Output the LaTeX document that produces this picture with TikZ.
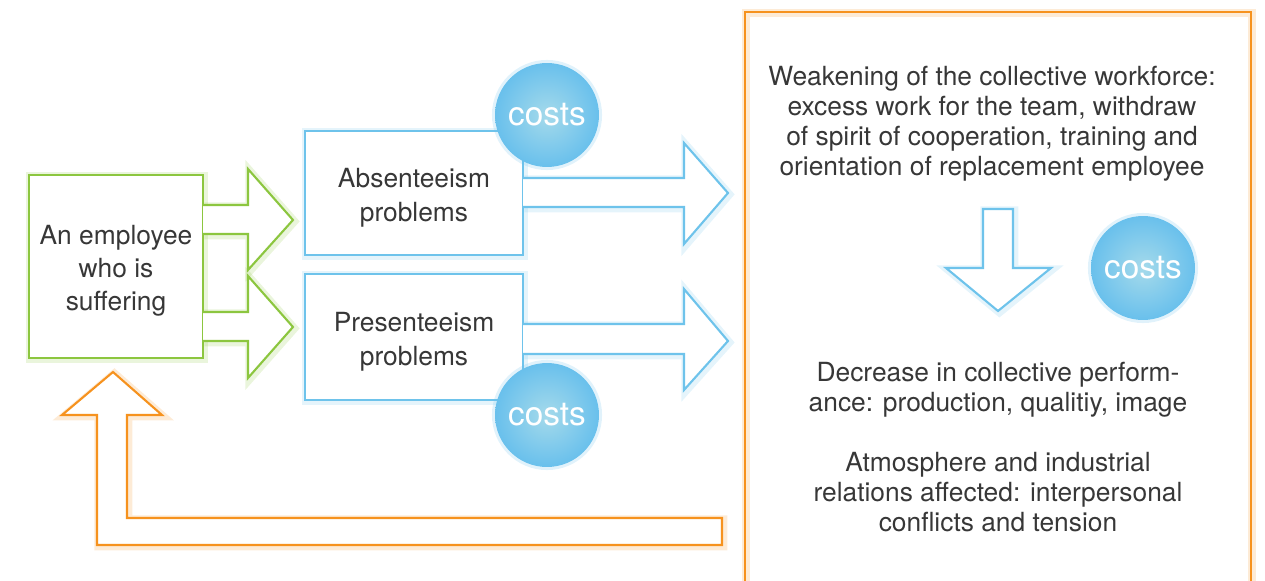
\documentclass[tikz,border=0pt]{standalone}
\usepackage{fontspec}
\setmainfont{TeX Gyre Heros}
\definecolor{txt}{RGB}{55,55,55}
\definecolor{grn}{RGB}{140,198,63}
\definecolor{blu}{RGB}{110,195,235}
\definecolor{org}{RGB}{246,146,30}
\definecolor{cin}{RGB}{165,218,235}
\definecolor{cout}{RGB}{105,192,236}
\tikzset{
  glowg/.style={preaction={draw=#1,opacity=.18,line width=4.5pt,transform canvas={shift={(0.8pt,-0.8pt)}}}},
  box/.style={draw=#1,line width=1.2pt,fill=white,glowg=#1,inner sep=0pt},
  label/.style={text=txt,align=center,inner sep=0pt},
  blk/.style={draw=#1,line width=1.2pt,fill=white,line join=miter,glowg=#1},
  costs/.style={circle,minimum size=2.08cm,inner sep=0pt,shading=radial,inner color=cin,outer color=cout,
    text=white,font=\fontsize{19}{22}\selectfont,preaction={draw=cout,opacity=.2,line width=3.5pt}},
  rtxt/.style={label,font=\fontsize{15}{17.1}\selectfont},
}
\begin{document}
\begin{tikzpicture}[x=0.02cm,y=-0.02cm]
\useasboundingbox (0,0) rectangle (1265,581);
% orange frame
\draw[org,line width=1.4pt,glowg=org] (745,12) rectangle (1251,620);
% green box
\node[box=grn,minimum width=3.48cm,minimum height=3.66cm] (emp) at (116,266.5) {};
\node[label,font=\fontsize{15}{18.7}\selectfont] (empt) at ([yshift=-2.3pt]emp.center) {An employee\\who is\\suffering};
% green arrows
\draw[blk=grn] (203,205)--(248,205)--(248,169)--(293,220)--(248,270)--(248,234)--(203,234);
\draw[blk=grn] (203,312)--(248,312)--(248,276)--(293,327)--(248,378)--(248,341)--(203,341);
% blue boxes
\node[box=blu,minimum width=4.36cm,minimum height=2.48cm] (abs) at (414,193) {};
\node[box=blu,minimum width=4.36cm,minimum height=2.52cm] (pre) at (414,337) {};
\node[label,font=\fontsize{15}{19.3}\selectfont] (abst) at ([yshift=-2.5pt]abs.center) {Absenteeism\\problems};
\node[label,font=\fontsize{15}{19.3}\selectfont] (pret) at ([yshift=-2.5pt]pre.center) {Presenteeism\\problems};
% blue arrows
\draw[blk=blu] (523,178)--(684,178)--(684,143)--(728,193)--(684,244)--(684,207)--(523,207);
\draw[blk=blu] (523,324)--(684,324)--(684,289)--(728,341)--(684,390)--(684,354)--(523,354);
% costs circles
\node[costs] (c1) at (547,115) {costs};
\node[costs] (c2) at (547,415) {costs};
\node[costs] (c3) at (1143,268) {costs};
% down arrow
\draw[blk=blu] (983,209)--(1013,209)--(1013,268)--(1051,268)--(998,311)--(946,268)--(983,268)--cycle;
% feedback arrow
\draw[blk=org] (722,518)--(127,518)--(127,415)--(162,415)--(113,372)--(62,415)--(97,415)--(97,545)--(722,545)--cycle;
% right texts
\node[rtxt] (t1) at (992,124) {Weakening of the collective workforce:\\excess work for the team, withdraw\\of spirit of cooperation, training and\\orientation of replacement employee};
\node[rtxt] (t2) at (998,390) {Decrease in collective perform-\\ance: production, qualitiy, image};
\node[rtxt] (t3) at (998,492) {Atmosphere and industrial\\relations affected: interpersonal\\conflicts and tension};
\end{tikzpicture}
\end{document}
